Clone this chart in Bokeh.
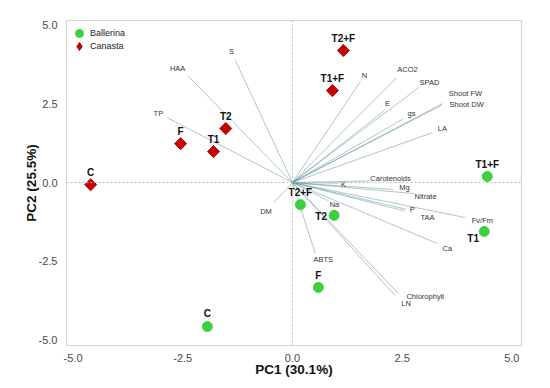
import math
from bokeh.plotting import figure
from bokeh.models import ColumnDataSource, Span, FixedTicker, PrintfTickFormatter, Legend, LegendItem
from bokeh.core.properties import value
from bokeh.embed import file_html
from bokeh.resources import INLINE

# ---- data ----
treatments_ballerina = ["T1+F", "T2+F", "T2", "F", "T1", "C"]
ballerina_pc1 = [4.44, 0.18, 0.95, 0.59, 4.37, -1.94]
ballerina_pc2 = [0.19, -0.70, -1.04, -3.32, -1.55, -4.56]

treatments_canasta = ["C", "F", "T1", "T2", "T2+F", "T1+F"]
canasta_pc1 = [-4.60, -2.55, -1.80, -1.52, 1.16, 0.91]
canasta_pc2 = [-0.07, 1.23, 0.98, 1.71, 4.18, 2.91]

variables = ["S", "HAA", "TP", "N", "ACO2", "SPAD", "E", "gs", "Shoot FW", "Shoot DW",
             "LA", "K", "Carotenoids", "Mg", "Nitrate", "P", "TAA", "Fv/Fm", "Ca",
             "Chlorophyll", "LN", "Na", "ABTS", "DM"]
loading_pc1 = [-1.30, -2.39, -2.85, 1.55, 2.37, 2.87, 2.10, 2.53, 3.42, 3.40,
               3.19, 1.05, 1.78, 2.30, 2.76, 2.55, 2.60, 3.94, 3.30,
               2.41, 2.34, 0.82, 0.52, -0.42]
loading_pc2 = [3.86, 3.39, 2.05, 3.20, 3.32, 3.00, 2.28, 2.02, 2.50, 2.45,
               1.58, -0.02, 0.05, -0.22, -0.35, -0.90, -0.85, -1.11, -1.93,
               -3.51, -3.58, -0.58, -2.25, -0.63]

x_ticks = [-5.0, -2.5, 0.0, 2.5, 5.0]
y_ticks = [-5.0, -2.5, 0.0, 2.5, 5.0]

# ---- label placement (screen pixels) ----
var_label_dx = [-4, -10, -9, 4, 11, 11, 3, 8, 23, 25, 10, 5, 20, 11, 12, 8, 21, 17, 10, 27, 11, 6, 8, -8]
var_label_dy = [-9, -7, -4, -6, -8, -5, -7, -5, -10, -1, -4, 1, -2, -2, 3, -1, 8, 3, 5, 3, 8, 4, 6, 9]
ball_label_dx = [0, 0, -13, 0, -11, 0]
ball_label_dy = [-12, -12, 1, -12, 7, -13]
can_label_dx = [0, 0, 0, 0, 0, 0]
can_label_dy = [-12, -12, -12, -12, -12, -12]

FONT = "Liberation Sans"

p = figure(width=540, height=386, x_range=(-5.15, 5.22), y_range=(-5.16, 5.13),
           output_backend="svg", toolbar_location=None,
           min_border_left=66, min_border_right=19, min_border_top=20, min_border_bottom=41)
p.grid.visible = False
p.outline_line_color = "#d4d4d4"
p.outline_line_width = 1.2
p.background_fill_color = "white"
p.border_fill_color = "white"

for ax in (p.xaxis, p.yaxis):
    ax.axis_line_color = None
    ax.major_tick_line_color = None
    ax.minor_tick_line_color = None
    ax.major_label_text_font = FONT
    ax.major_label_text_font_size = "11px"
    ax.major_label_text_color = "#4a4a4a"
    ax.axis_label_text_font = FONT
    ax.axis_label_text_font_size = "13.5px"
    ax.axis_label_text_font_style = "bold"
    ax.axis_label_text_color = "#111111"
    ax.formatter = PrintfTickFormatter(format="%.1f")

p.xaxis.ticker = FixedTicker(ticks=x_ticks)
p.yaxis.ticker = FixedTicker(ticks=y_ticks)
p.xaxis.axis_label = "PC1 (30.1%)"
p.yaxis.axis_label = "PC2 (25.5%)"
p.xaxis.major_label_standoff = 2
p.xaxis.axis_label_standoff = -3
p.yaxis.major_label_standoff = 3
p.yaxis.axis_label_standoff = -3

# reference lines
p.add_layout(Span(location=0, dimension="width", line_color="#bdbdbd", line_dash="2 2", line_width=1))
p.add_layout(Span(location=0, dimension="height", line_color="#bdbdbd", line_dash="2 2", line_width=1))

# loading vectors
n = len(variables)
lsrc = ColumnDataSource(dict(x0=[0.0] * n, y0=[0.0] * n, x1=loading_pc1, y1=loading_pc2,
                             name=variables, dx=var_label_dx, dy=var_label_dy))
p.segment(x0="x0", y0="y0", x1="x1", y1="y1", source=lsrc,
          line_color="#5b8d98", line_alpha=0.5, line_width=1)
p.text(x="x1", y="y1", text="name", x_offset="dx", y_offset="dy", source=lsrc,
       text_font=value(FONT), text_font_size="7.5px", text_color="#333333",
       text_align="center", text_baseline="middle")

# scores
bsrc = ColumnDataSource(dict(x=ballerina_pc1, y=ballerina_pc2, t=treatments_ballerina,
                             dx=ball_label_dx, dy=ball_label_dy))
csrc = ColumnDataSource(dict(x=canasta_pc1, y=canasta_pc2, t=treatments_canasta,
                             dx=can_label_dx, dy=can_label_dy))
rb = p.scatter(x="x", y="y", source=bsrc, marker="circle", size=10,
               fill_color="#3fd03f", line_color="#3fd03f")
# diamond used for the legend symbol (hidden under the rotated squares)
rc_leg = p.scatter(x="x", y="y", source=csrc, marker="diamond", size=8,
                   fill_color="#c80000", line_color="#b00000")
p.scatter(x="x", y="y", source=csrc, marker="square", size=8.5, angle=math.pi / 4,
          fill_color="#c80000", line_color="#b00000")
for src in (bsrc, csrc):
    p.text(x="x", y="y", text="t", x_offset="dx", y_offset="dy", source=src,
           text_font=value(FONT), text_font_size="10px", text_font_style="bold",
           text_color="#111111", text_align="center", text_baseline="middle")


def make_legend(label, renderer, glyph_h):
    lg = Legend(items=[LegendItem(label=label, renderers=[renderer])], location="top_left")
    lg.background_fill_alpha = 0
    lg.border_line_color = None
    lg.label_text_font = FONT
    lg.label_text_font_size = "9px"
    lg.label_text_color = "#222222"
    lg.glyph_width = 20
    lg.glyph_height = glyph_h
    lg.label_height = 12
    lg.label_standoff = 1
    lg.padding = 0
    lg.margin = 3
    return lg


p.add_layout(make_legend("Ballerina", rb, 20))
p.add_layout(make_legend("Canasta", rc_leg, 46))

open("out.html", "w").write(file_html(p, INLINE))
